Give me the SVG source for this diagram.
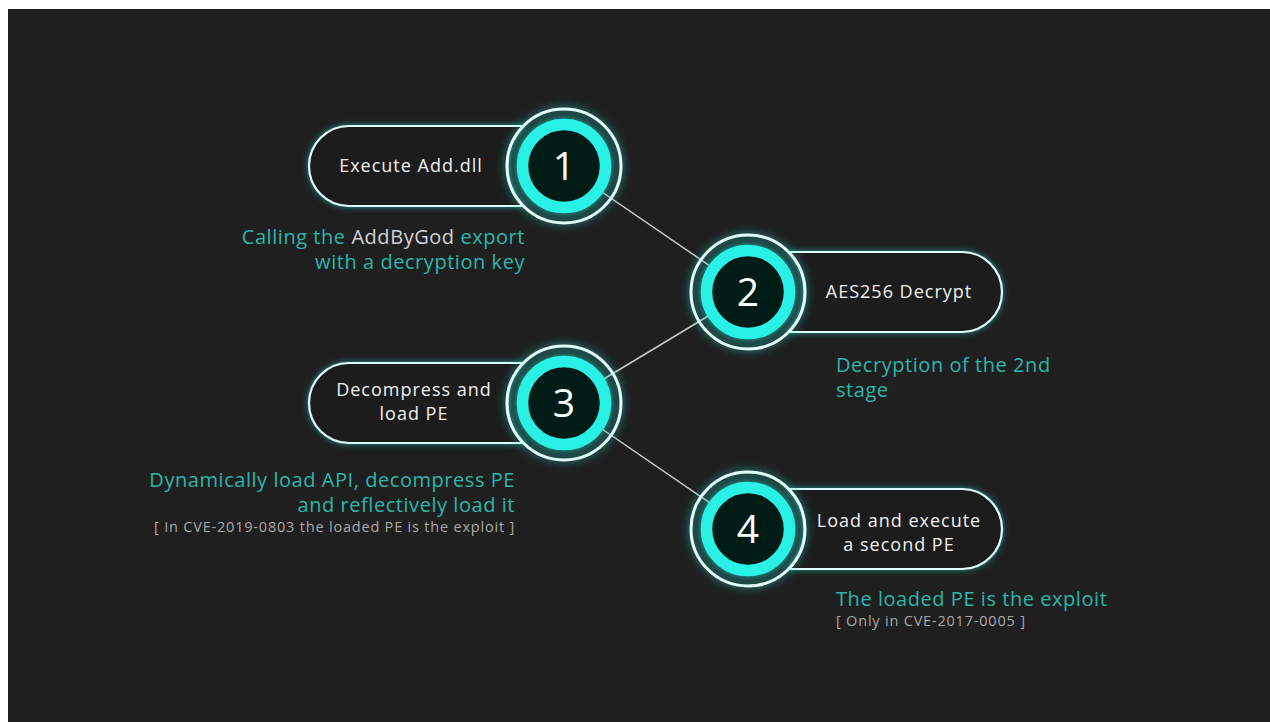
<svg xmlns="http://www.w3.org/2000/svg" width="1270" height="722" viewBox="0 0 1270 722">
  <defs>
    <filter id="glow" x="-30%" y="-30%" width="160%" height="160%">
      <feGaussianBlur in="SourceAlpha" stdDeviation="4.5" result="b"/>
      <feFlood flood-color="#22e8dc" flood-opacity="0.8"/>
      <feComposite in2="b" operator="in" result="g"/>
      <feMerge>
        <feMergeNode in="g"/>
        <feMergeNode in="SourceGraphic"/>
      </feMerge>
    </filter>
    <filter id="glowSoft" x="-30%" y="-30%" width="160%" height="160%">
      <feGaussianBlur in="SourceAlpha" stdDeviation="3" result="b"/>
      <feFlood flood-color="#22e8dc" flood-opacity="0.55"/>
      <feComposite in2="b" operator="in" result="g"/>
      <feMerge>
        <feMergeNode in="g"/>
        <feMergeNode in="SourceGraphic"/>
      </feMerge>
    </filter>
  </defs>
  <style>
    .pill { fill: #1c1c1c; stroke: #dcfdf9; stroke-width: 2.2; filter: url(#glowSoft); }
    .outer { fill: none; stroke: #e2fffc; stroke-width: 3; filter: url(#glow); }
    .ring { fill: #061a19; stroke: #2cf1e6; stroke-width: 11.5; filter: url(#glow); }
    .num { font-family: "Open Sans", "DejaVu Sans", sans-serif; font-size: 39px; fill: #ffffff; text-anchor: middle; }
    .label { font-family: "Open Sans", "DejaVu Sans", sans-serif; font-size: 18px; letter-spacing: 1px; fill: #f0f0f0; text-anchor: middle; }
    .cap { font-family: "Open Sans", "DejaVu Sans", sans-serif; font-size: 20px; letter-spacing: 0.55px; fill: #2ab7ac; }
    .hl { fill: #d2d2d2; }
    .note { font-family: "Open Sans", "DejaVu Sans", sans-serif; font-size: 14.5px; letter-spacing: 0.8px; fill: #a9a9a9; }
    .conn { stroke: #c9c9c9; stroke-width: 1.5; fill: none; }
  </style>
  <rect x="0" y="0" width="1270" height="722" fill="#ffffff"/>
  <rect x="8" y="9" width="1262" height="713" fill="#1f1f1f"/>

  <g id="connectors">
    <line class="conn" x1="564" y1="166" x2="748" y2="292"/>
    <line class="conn" x1="748" y1="292" x2="564" y2="403"/>
    <line class="conn" x1="564" y1="403" x2="748" y2="529"/>
  </g>

  <g id="node1">
    <path class="pill" d="M523.4,126 H349 A40,40 0 0 0 349,206 H523.4 A57,57 0 0 1 523.4,126 Z"/>
    <circle class="outer" cx="564" cy="166" r="57"/>
    <circle class="ring" cx="564" cy="166" r="41.5"/>
    <text class="num" x="564" y="180">1</text>
    <text class="label" x="411" y="172">Execute Add.dll</text>
    <text class="cap" x="525" y="244" text-anchor="end">Calling the <tspan class="hl">AddByGod</tspan> export</text>
    <text class="cap" x="525" y="269" text-anchor="end">with a decryption key</text>
  </g>

  <g id="node2">
    <path class="pill" d="M788.6,252 H962 A40,40 0 0 1 962,332 H788.6 A57,57 0 0 0 788.6,252 Z"/>
    <circle class="outer" cx="748" cy="292" r="57"/>
    <circle class="ring" cx="748" cy="292" r="41.5"/>
    <text class="num" x="748" y="306">2</text>
    <text class="label" x="899" y="298">AES256 Decrypt</text>
    <text class="cap" x="836" y="372">Decryption of the 2nd</text>
    <text class="cap" x="836" y="397">stage</text>
  </g>

  <g id="node3">
    <path class="pill" d="M523.4,363 H349 A40,40 0 0 0 349,443 H523.4 A57,57 0 0 1 523.4,363 Z"/>
    <circle class="outer" cx="564" cy="403" r="57"/>
    <circle class="ring" cx="564" cy="403" r="41.5"/>
    <text class="num" x="564" y="417">3</text>
    <text class="label" x="414" y="396">Decompress and</text>
    <text class="label" x="414" y="420">load PE</text>
    <text class="cap" x="515" y="487" text-anchor="end">Dynamically load API, decompress PE</text>
    <text class="cap" x="515" y="512" text-anchor="end">and reflectively load it</text>
    <text class="note" x="515" y="532" text-anchor="end">[ In CVE-2019-0803 the loaded PE is the exploit ]</text>
  </g>

  <g id="node4">
    <path class="pill" d="M788.6,489 H962 A40,40 0 0 1 962,569 H788.6 A57,57 0 0 0 788.6,489 Z"/>
    <circle class="outer" cx="748" cy="529" r="57"/>
    <circle class="ring" cx="748" cy="529" r="41.5"/>
    <text class="num" x="748" y="543">4</text>
    <text class="label" x="899" y="527">Load and execute</text>
    <text class="label" x="899" y="551">a second PE</text>
    <text class="cap" x="836" y="606">The loaded PE is the exploit</text>
    <text class="note" x="836" y="626">[ Only in CVE-2017-0005 ]</text>
  </g>
</svg>
